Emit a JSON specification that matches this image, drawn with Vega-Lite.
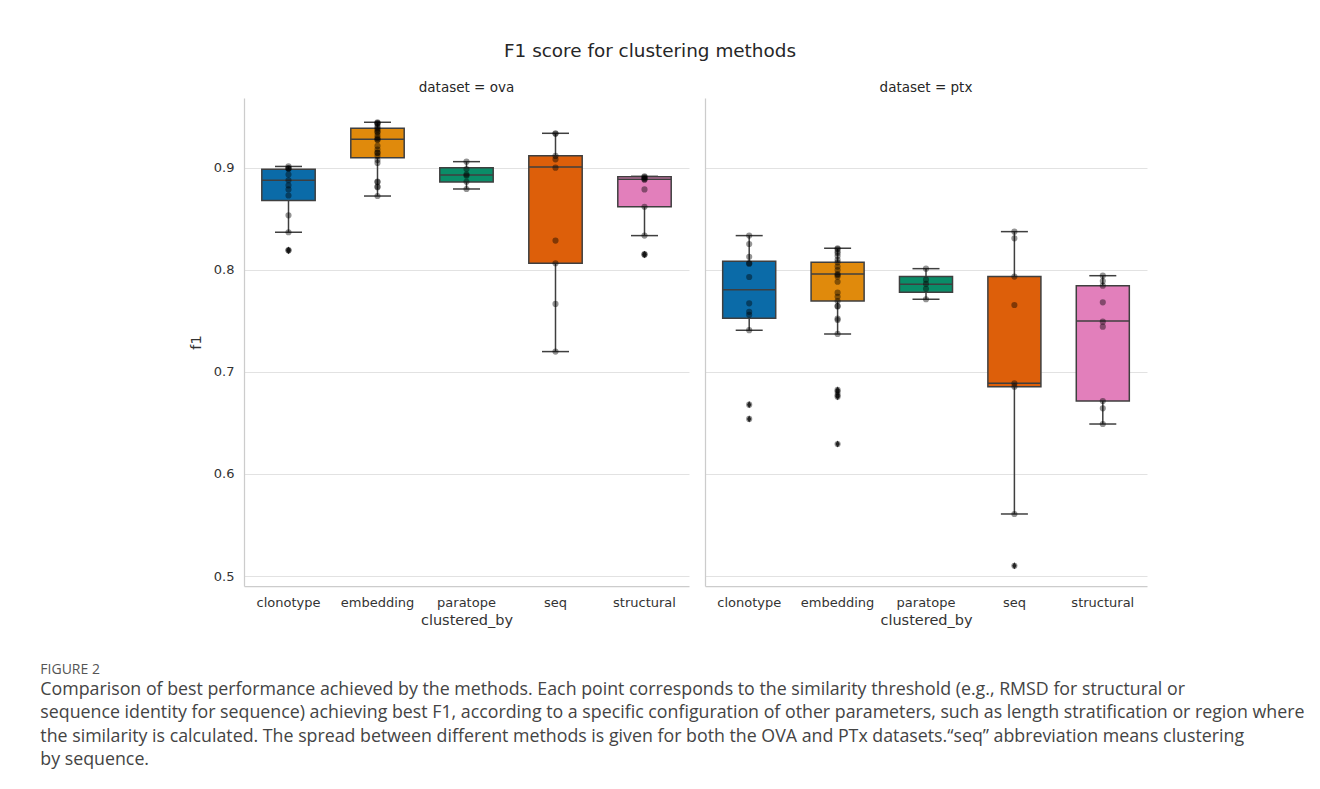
{
  "$schema": "https://vega.github.io/schema/vega-lite/v6.json",
  "padding": {"left": 40, "top": 42, "right": 5, "bottom": 5},
  "background": "white",
  "datasets": {
    "ova_box": [
      {"clustered_by": "clonotype", "lo": 0.837, "q1": 0.868, "med": 0.888, "q3": 0.8987, "hi": 0.9015},
      {"clustered_by": "embedding", "lo": 0.8725, "q1": 0.9101, "med": 0.9281, "q3": 0.9389, "hi": 0.9448},
      {"clustered_by": "paratope", "lo": 0.8794, "q1": 0.8863, "med": 0.8931, "q3": 0.9003, "hi": 0.9062},
      {"clustered_by": "seq", "lo": 0.72, "q1": 0.8066, "med": 0.901, "q3": 0.9121, "hi": 0.934},
      {"clustered_by": "structural", "lo": 0.8337, "q1": 0.862, "med": 0.8889, "q3": 0.8915, "hi": 0.8918}
    ],
    "ptx_box": [
      {"clustered_by": "clonotype", "lo": 0.7409, "q1": 0.7526, "med": 0.7807, "q3": 0.8085, "hi": 0.8337},
      {"clustered_by": "embedding", "lo": 0.7373, "q1": 0.7696, "med": 0.7961, "q3": 0.8075, "hi": 0.8213},
      {"clustered_by": "paratope", "lo": 0.7713, "q1": 0.7781, "med": 0.786, "q3": 0.7935, "hi": 0.8013},
      {"clustered_by": "seq", "lo": 0.5608, "q1": 0.6856, "med": 0.689, "q3": 0.7935, "hi": 0.8376},
      {"clustered_by": "structural", "lo": 0.649, "q1": 0.6716, "med": 0.75, "q3": 0.7846, "hi": 0.7944}
    ],
    "ova_pts": [
      {"clustered_by": "clonotype", "f1": 0.9015}, {"clustered_by": "clonotype", "f1": 0.900}, {"clustered_by": "clonotype", "f1": 0.8995},
      {"clustered_by": "clonotype", "f1": 0.899}, {"clustered_by": "clonotype", "f1": 0.8935}, {"clustered_by": "clonotype", "f1": 0.888},
      {"clustered_by": "clonotype", "f1": 0.883}, {"clustered_by": "clonotype", "f1": 0.879}, {"clustered_by": "clonotype", "f1": 0.873},
      {"clustered_by": "clonotype", "f1": 0.8536}, {"clustered_by": "clonotype", "f1": 0.837}, {"clustered_by": "clonotype", "f1": 0.8195},
      {"clustered_by": "clonotype", "f1": 0.819},
      {"clustered_by": "embedding", "f1": 0.9448}, {"clustered_by": "embedding", "f1": 0.944}, {"clustered_by": "embedding", "f1": 0.943},
      {"clustered_by": "embedding", "f1": 0.9438}, {"clustered_by": "embedding", "f1": 0.9405}, {"clustered_by": "embedding", "f1": 0.939},
      {"clustered_by": "embedding", "f1": 0.9375}, {"clustered_by": "embedding", "f1": 0.9356}, {"clustered_by": "embedding", "f1": 0.935},
      {"clustered_by": "embedding", "f1": 0.932}, {"clustered_by": "embedding", "f1": 0.9295}, {"clustered_by": "embedding", "f1": 0.9275},
      {"clustered_by": "embedding", "f1": 0.928}, {"clustered_by": "embedding", "f1": 0.9216}, {"clustered_by": "embedding", "f1": 0.918},
      {"clustered_by": "embedding", "f1": 0.915}, {"clustered_by": "embedding", "f1": 0.9148}, {"clustered_by": "embedding", "f1": 0.912},
      {"clustered_by": "embedding", "f1": 0.9078}, {"clustered_by": "embedding", "f1": 0.905}, {"clustered_by": "embedding", "f1": 0.8866},
      {"clustered_by": "embedding", "f1": 0.8862}, {"clustered_by": "embedding", "f1": 0.8817}, {"clustered_by": "embedding", "f1": 0.8812},
      {"clustered_by": "embedding", "f1": 0.8725},
      {"clustered_by": "paratope", "f1": 0.9062}, {"clustered_by": "paratope", "f1": 0.899}, {"clustered_by": "paratope", "f1": 0.8935},
      {"clustered_by": "paratope", "f1": 0.8925}, {"clustered_by": "paratope", "f1": 0.8865}, {"clustered_by": "paratope", "f1": 0.8794},
      {"clustered_by": "seq", "f1": 0.934}, {"clustered_by": "seq", "f1": 0.9335}, {"clustered_by": "seq", "f1": 0.9118},
      {"clustered_by": "seq", "f1": 0.9085}, {"clustered_by": "seq", "f1": 0.9003}, {"clustered_by": "seq", "f1": 0.8288},
      {"clustered_by": "seq", "f1": 0.8066}, {"clustered_by": "seq", "f1": 0.7667}, {"clustered_by": "seq", "f1": 0.72},
      {"clustered_by": "structural", "f1": 0.8918}, {"clustered_by": "structural", "f1": 0.891}, {"clustered_by": "structural", "f1": 0.890},
      {"clustered_by": "structural", "f1": 0.889}, {"clustered_by": "structural", "f1": 0.8885}, {"clustered_by": "structural", "f1": 0.879},
      {"clustered_by": "structural", "f1": 0.862}, {"clustered_by": "structural", "f1": 0.8337}, {"clustered_by": "structural", "f1": 0.8155},
      {"clustered_by": "structural", "f1": 0.815}
    ],
    "ptx_pts": [
      {"clustered_by": "clonotype", "f1": 0.8337}, {"clustered_by": "clonotype", "f1": 0.8255}, {"clustered_by": "clonotype", "f1": 0.813},
      {"clustered_by": "clonotype", "f1": 0.8066}, {"clustered_by": "clonotype", "f1": 0.8062}, {"clustered_by": "clonotype", "f1": 0.7931},
      {"clustered_by": "clonotype", "f1": 0.7673}, {"clustered_by": "clonotype", "f1": 0.759}, {"clustered_by": "clonotype", "f1": 0.756},
      {"clustered_by": "clonotype", "f1": 0.741}, {"clustered_by": "clonotype", "f1": 0.668}, {"clustered_by": "clonotype", "f1": 0.654},
      {"clustered_by": "embedding", "f1": 0.8213}, {"clustered_by": "embedding", "f1": 0.8205}, {"clustered_by": "embedding", "f1": 0.818},
      {"clustered_by": "embedding", "f1": 0.8164}, {"clustered_by": "embedding", "f1": 0.8137}, {"clustered_by": "embedding", "f1": 0.81},
      {"clustered_by": "embedding", "f1": 0.8075}, {"clustered_by": "embedding", "f1": 0.8033}, {"clustered_by": "embedding", "f1": 0.80},
      {"clustered_by": "embedding", "f1": 0.7961}, {"clustered_by": "embedding", "f1": 0.7951}, {"clustered_by": "embedding", "f1": 0.7935},
      {"clustered_by": "embedding", "f1": 0.7885}, {"clustered_by": "embedding", "f1": 0.7778}, {"clustered_by": "embedding", "f1": 0.7738},
      {"clustered_by": "embedding", "f1": 0.7696}, {"clustered_by": "embedding", "f1": 0.7647}, {"clustered_by": "embedding", "f1": 0.7643},
      {"clustered_by": "embedding", "f1": 0.7523}, {"clustered_by": "embedding", "f1": 0.751}, {"clustered_by": "embedding", "f1": 0.7373},
      {"clustered_by": "embedding", "f1": 0.6824}, {"clustered_by": "embedding", "f1": 0.6807}, {"clustered_by": "embedding", "f1": 0.6775},
      {"clustered_by": "embedding", "f1": 0.6758}, {"clustered_by": "embedding", "f1": 0.6294},
      {"clustered_by": "paratope", "f1": 0.8013}, {"clustered_by": "paratope", "f1": 0.7905}, {"clustered_by": "paratope", "f1": 0.7865},
      {"clustered_by": "paratope", "f1": 0.7815}, {"clustered_by": "paratope", "f1": 0.7713},
      {"clustered_by": "seq", "f1": 0.8376}, {"clustered_by": "seq", "f1": 0.831}, {"clustered_by": "seq", "f1": 0.7935},
      {"clustered_by": "seq", "f1": 0.7657}, {"clustered_by": "seq", "f1": 0.689}, {"clustered_by": "seq", "f1": 0.6856},
      {"clustered_by": "seq", "f1": 0.5608}, {"clustered_by": "seq", "f1": 0.51},
      {"clustered_by": "structural", "f1": 0.7944}, {"clustered_by": "structural", "f1": 0.7892}, {"clustered_by": "structural", "f1": 0.7846},
      {"clustered_by": "structural", "f1": 0.7683}, {"clustered_by": "structural", "f1": 0.7493}, {"clustered_by": "structural", "f1": 0.7444},
      {"clustered_by": "structural", "f1": 0.6716}, {"clustered_by": "structural", "f1": 0.6644}, {"clustered_by": "structural", "f1": 0.649}
    ]
  },
  "title": {
    "text": "FIGURE 2",
    "subtitle": [
      "Comparison of best performance achieved by the methods. Each point corresponds to the similarity threshold (e.g., RMSD for structural or",
      "sequence identity for sequence) achieving best F1, according to a specific configuration of other parameters, such as length stratification or region where",
      "the similarity is calculated. The spread between different methods is given for both the OVA and PTx datasets.\u201cseq\u201d abbreviation means clustering",
      "by sequence."
    ],
    "orient": "bottom",
    "anchor": "start",
    "frame": "bounds",
    "dx": -148,
    "offset": 36,
    "font": "Open Sans",
    "fontSize": 14,
    "fontWeight": "normal",
    "color": "#555555",
    "subtitleFont": "Open Sans",
    "subtitleFontSize": 17.8,
    "subtitleColor": "#444444",
    "subtitleLineHeight": 23.5,
    "subtitlePadding": 4
  },
  "vconcat": [
    {
      "title": {"text": "F1 score for clustering methods", "anchor": "middle", "frame": "group", "dx": 406, "offset": 20, "fontSize": 18.4, "fontWeight": "normal", "color": "#262626", "font": "DejaVu Sans"},
      "spacing": 16,
      "hconcat": [
        {
          "title": {"text": "dataset = ova", "fontSize": 13.5, "fontWeight": "normal", "color": "#262626", "offset": 4, "anchor": "middle"},
          "width": 445,
          "height": 488,
          "encoding": {
            "x": {"field": "clustered_by", "type": "nominal", "sort": ["clonotype", "embedding", "paratope", "seq", "structural"],
                  "scale": {"type": "band", "paddingInner": 0, "paddingOuter": 0},
                  "axis": {"title": "clustered_by", "labelAngle": 0}}
          },
          "layer": [
            {
              "data": {"name": "ova_box"},
              "mark": {"type": "rule", "color": "#3f3f3f", "strokeWidth": 1.5},
              "encoding": {
                "y": {"field": "lo", "type": "quantitative", "scale": {"domain": [0.4902, 0.9686], "nice": false, "zero": false},
                      "axis": {"title": "f1", "values": [0.5, 0.6, 0.7, 0.8, 0.9], "format": ".1f", "grid": true}},
                "y2": {"field": "hi"}
              }
            },
            {
              "data": {"name": "ova_box"},
              "mark": {"type": "tick", "color": "#3f3f3f", "thickness": 1.5, "size": 27, "opacity": 1},
              "encoding": {"y": {"field": "lo", "type": "quantitative"}}
            },
            {
              "data": {"name": "ova_box"},
              "mark": {"type": "tick", "color": "#3f3f3f", "thickness": 1.5, "size": 27, "opacity": 1},
              "encoding": {"y": {"field": "hi", "type": "quantitative"}}
            },
            {
              "data": {"name": "ova_box"},
              "mark": {"type": "bar", "stroke": "#3f3f3f", "strokeWidth": 1.5, "width": {"band": 0.6}, "opacity": 1},
              "encoding": {
                "y": {"field": "q1", "type": "quantitative"},
                "y2": {"field": "q3"},
                "color": {"field": "clustered_by", "type": "nominal", "legend": null,
                          "scale": {"domain": ["clonotype", "embedding", "paratope", "seq", "structural"], "range": ["#0b6ba8", "#e08a0c", "#0a8d68", "#dd5f0a", "#e27fbb"]}}
              }
            },
            {
              "data": {"name": "ova_box"},
              "mark": {"type": "tick", "color": "#3f3f3f", "thickness": 1.5, "size": 53, "opacity": 1},
              "encoding": {"y": {"field": "med", "type": "quantitative"}}
            },
            {
              "data": {"name": "ova_pts"},
              "transform": [
                {"lookup": "clustered_by", "from": {"data": {"name": "ova_box"}, "key": "clustered_by", "fields": ["lo", "hi"]}},
                {"filter": "datum.f1 < datum.lo - 0.002 || datum.f1 > datum.hi + 0.002"}
              ],
              "mark": {"type": "point", "shape": "M0,-1L0.6,0L0,1L-0.6,0Z", "filled": true, "color": "#3f3f3f", "size": 50, "opacity": 1},
              "encoding": {"y": {"field": "f1", "type": "quantitative"}}
            },
            {
              "data": {"name": "ova_pts"},
              "mark": {"type": "circle", "color": "#000000", "opacity": 0.42, "size": 38},
              "encoding": {"y": {"field": "f1", "type": "quantitative"}}
            }
          ]
        },
        {
          "title": {"text": "dataset = ptx", "fontSize": 13.5, "fontWeight": "normal", "color": "#262626", "offset": 4, "anchor": "middle"},
          "width": 442,
          "height": 488,
          "encoding": {
            "x": {"field": "clustered_by", "type": "nominal", "sort": ["clonotype", "embedding", "paratope", "seq", "structural"],
                  "scale": {"type": "band", "paddingInner": 0, "paddingOuter": 0},
                  "axis": {"title": "clustered_by", "labelAngle": 0}}
          },
          "layer": [
            {
              "data": {"name": "ptx_box"},
              "mark": {"type": "rule", "color": "#3f3f3f", "strokeWidth": 1.5},
              "encoding": {
                "y": {"field": "lo", "type": "quantitative", "scale": {"domain": [0.4902, 0.9686], "nice": false, "zero": false},
                      "axis": {"title": null, "values": [0.5, 0.6, 0.7, 0.8, 0.9], "labels": false, "grid": true}},
                "y2": {"field": "hi"}
              }
            },
            {
              "data": {"name": "ptx_box"},
              "mark": {"type": "tick", "color": "#3f3f3f", "thickness": 1.5, "size": 27, "opacity": 1},
              "encoding": {"y": {"field": "lo", "type": "quantitative"}}
            },
            {
              "data": {"name": "ptx_box"},
              "mark": {"type": "tick", "color": "#3f3f3f", "thickness": 1.5, "size": 27, "opacity": 1},
              "encoding": {"y": {"field": "hi", "type": "quantitative"}}
            },
            {
              "data": {"name": "ptx_box"},
              "mark": {"type": "bar", "stroke": "#3f3f3f", "strokeWidth": 1.5, "width": {"band": 0.6}, "opacity": 1},
              "encoding": {
                "y": {"field": "q1", "type": "quantitative"},
                "y2": {"field": "q3"},
                "color": {"field": "clustered_by", "type": "nominal", "legend": null,
                          "scale": {"domain": ["clonotype", "embedding", "paratope", "seq", "structural"], "range": ["#0b6ba8", "#e08a0c", "#0a8d68", "#dd5f0a", "#e27fbb"]}}
              }
            },
            {
              "data": {"name": "ptx_box"},
              "mark": {"type": "tick", "color": "#3f3f3f", "thickness": 1.5, "size": 53, "opacity": 1},
              "encoding": {"y": {"field": "med", "type": "quantitative"}}
            },
            {
              "data": {"name": "ptx_pts"},
              "transform": [
                {"lookup": "clustered_by", "from": {"data": {"name": "ptx_box"}, "key": "clustered_by", "fields": ["lo", "hi"]}},
                {"filter": "datum.f1 < datum.lo - 0.002 || datum.f1 > datum.hi + 0.002"}
              ],
              "mark": {"type": "point", "shape": "M0,-1L0.6,0L0,1L-0.6,0Z", "filled": true, "color": "#3f3f3f", "size": 50, "opacity": 1},
              "encoding": {"y": {"field": "f1", "type": "quantitative"}}
            },
            {
              "data": {"name": "ptx_pts"},
              "mark": {"type": "circle", "color": "#000000", "opacity": 0.42, "size": 38},
              "encoding": {"y": {"field": "f1", "type": "quantitative"}}
            }
          ]
        }
      ]
    }
  ],
  "config": {
    "font": "DejaVu Sans",
    "view": {"stroke": null},
    "axis": {
      "domainColor": "#cccccc",
      "domainWidth": 1.25,
      "gridColor": "#e2e2e2",
      "gridWidth": 1,
      "ticks": false,
      "labelFont": "DejaVu Sans",
      "labelFontSize": 13,
      "labelColor": "#333333",
      "titleFont": "DejaVu Sans",
      "titleFontSize": 14.5,
      "titleFontWeight": "normal",
      "titleColor": "#333333"
    },
    "axisX": {"labelPadding": 10, "titlePadding": 4, "grid": false},
    "axisY": {"labelPadding": 10, "titlePadding": 10}
  }
}
